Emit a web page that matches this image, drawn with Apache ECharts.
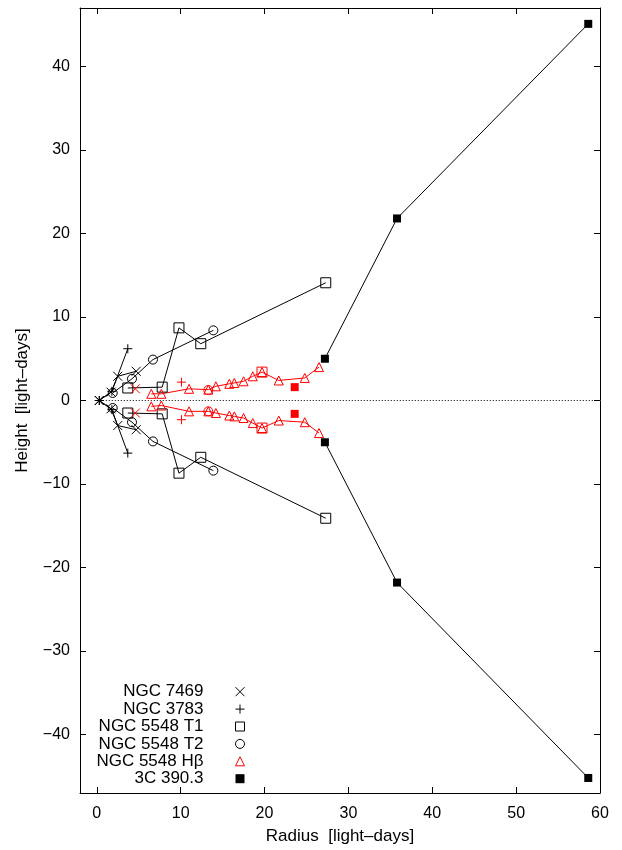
<!DOCTYPE html>
<html><head><meta charset="utf-8">
<script src="https://cdn.jsdelivr.net/npm/echarts@6/dist/echarts.min.js"></script>
<style>html,body{margin:0;padding:0;background:#fff}#c{width:622px;height:850px}</style>
</head><body><div id="c"></div>
<script>
// ---- data (radius / height in light-days) ----
const xTicks = [0, 10, 20, 30, 40, 50, 60];
const yTicks = [-40, -30, -20, -10, 0, 10, 20, 30, 40];

const n7469R   = [0.3, 1.7, 2.5, 4.7];
const n7469Hup = [0.0, 1.0, 2.9, 3.5];
const n7469Hlo = [0.0, -1.0, -3.0, -3.5];

const n3783R   = [0.3, 1.8, 3.7];
const n3783Hup = [0.0, 1.1, 6.2];
const n3783Hlo = [0.0, -1.1, -6.3];

const t1R   = [3.7, 7.8, 9.8, 12.4, 27.3];
const t1Hup = [1.5, 1.6, 8.7, 6.8, 14.1];
const t1Hlo = [-1.5, -1.6, -8.7, -6.8, -14.1];

const t2R   = [1.9, 4.2, 6.7, 13.9];
const t2Hup = [0.9, 2.6, 4.9, 8.4];
const t2Hlo = [-0.9, -2.6, -4.9, -8.4];

const hbR   = [6.5, 7.7, 11.0, 13.3, 14.2, 15.8, 16.4, 17.5, 18.6, 19.7, 21.7, 24.8, 26.5];
const hbHup = [0.8, 0.8, 1.4, 1.3, 1.7, 2.0, 2.1, 2.3, 2.9, 3.4, 2.4, 2.7, 4.0];
const hbHlo = [-0.7, -0.6, -1.3, -1.3, -1.5, -1.8, -1.9, -2.1, -2.7, -3.3, -2.4, -2.6, -3.9];

const c390R   = [27.2, 35.8, 58.6];
const c390Hup = [5.0, 21.8, 45.1];
const c390Hlo = [-5.0, -21.8, -45.2];

// red (Hbeta) single points of the other objects
const redXR = [4.6, 4.6],   redXH = [1.4, -1.5];
const redPR = [10.1, 10.1], redPH = [2.2, -2.3];
const redOR = [13.3, 13.3], redOH = [1.25, -1.3];
const redSR = [19.7, 19.7], redSH = [3.4, -3.3];
const redFR = [23.6, 23.6], redFH = [1.6, -1.6];

const zeroR = [0, 60], zeroH = [0, 0];

const names = ['NGC 7469', 'NGC 3783', 'NGC 5548 T1', 'NGC 5548 T2', 'NGC 5548 H\u03b2', '3C 390.3'];

// ---- build ----
const pair = (r, h) => r.map((v, i) => [v, h[i]]);
const FONT = 'Liberation Sans';
const BLACK = '#000', RED = '#ff0000';
const CROSS = 'path://M0,0L10,10M10,0L0,10';
const PLUS = 'path://M5,0L5,10M0,5L10,5';
const CLEAR = 'rgba(0,0,0,0)';

function lineSeries(name, data, symbol, size, color, filled) {
  return {
    type: 'line', name, data, symbol, symbolSize: size,
    lineStyle: { color, width: 1 },
    itemStyle: { color: filled ? color : CLEAR, borderColor: color, borderWidth: filled ? 0 : 1 },
    emphasis: { disabled: true }, silent: true, animation: false, z: 3
  };
}
function scatterSeries(name, data, symbol, size, color, filled) {
  return {
    type: 'scatter', name, data, symbol, symbolSize: size,
    itemStyle: { color: filled ? color : CLEAR, borderColor: color, borderWidth: filled ? 0 : 1, opacity: 1 },
    emphasis: { disabled: true }, silent: true, animation: false, z: 4
  };
}

const series = [
  { type: 'line', name: 'zero', data: pair(zeroR, zeroH), symbol: 'none',
    lineStyle: { color: BLACK, width: 1, type: [1, 2] }, silent: true, animation: false, z: 1 },
  lineSeries(names[0], pair(n7469R, n7469Hup), CROSS, 9, BLACK, false),
  lineSeries(names[0], pair(n7469R, n7469Hlo), CROSS, 9, BLACK, false),
  lineSeries(names[1], pair(n3783R, n3783Hup), PLUS, 9, BLACK, false),
  lineSeries(names[1], pair(n3783R, n3783Hlo), PLUS, 9, BLACK, false),
  lineSeries(names[2], pair(t1R, t1Hup), 'rect', 10, BLACK, false),
  lineSeries(names[2], pair(t1R, t1Hlo), 'rect', 10, BLACK, false),
  lineSeries(names[3], pair(t2R, t2Hup), 'circle', 9, BLACK, false),
  lineSeries(names[3], pair(t2R, t2Hlo), 'circle', 9, BLACK, false),
  lineSeries(names[4], pair(hbR, hbHup), 'triangle', 9, RED, false),
  lineSeries(names[4], pair(hbR, hbHlo), 'triangle', 9, RED, false),
  lineSeries(names[5], pair(c390R, c390Hup), 'rect', 8, BLACK, true),
  lineSeries(names[5], pair(c390R, c390Hlo), 'rect', 8, BLACK, true),
  scatterSeries('r7469', pair(redXR, redXH), CROSS, 9, RED, false),
  scatterSeries('r3783', pair(redPR, redPH), PLUS, 9, RED, false),
  scatterSeries('rT2', pair(redOR, redOH), 'circle', 9, RED, false),
  scatterSeries('rT1', pair(redSR, redSH), 'rect', 10, RED, false),
  scatterSeries('r390', pair(redFR, redFH), 'rect', 8, RED, true)
];

const fmt = v => String(v).replace('-', '\u2212');
const labelStyle = { fontSize: 16, color: BLACK, fontFamily: FONT };
const titleStyle = { fontSize: 17, color: BLACK, fontFamily: FONT };

const legendIcons = [
  { icon: CROSS, itemStyle: { color: 'none', borderColor: BLACK, borderWidth: 1 } },
  { icon: PLUS, itemStyle: { color: 'none', borderColor: BLACK, borderWidth: 1 } },
  { icon: 'rect', itemStyle: { color: CLEAR, borderColor: BLACK, borderWidth: 1 } },
  { icon: 'circle', itemStyle: { color: CLEAR, borderColor: BLACK, borderWidth: 1 } },
  { icon: 'triangle', itemStyle: { color: CLEAR, borderColor: RED, borderWidth: 1 } },
  { icon: 'rect', itemStyle: { color: BLACK, borderColor: BLACK, borderWidth: 0 } }
];

const option = {
  backgroundColor: '#fff',
  animation: false,
  textStyle: { fontFamily: FONT },
  grid: { left: 80, right: 22, top: 8, bottom: 57, containLabel: false, outerBoundsMode: 'none' },
  legend: {
    orient: 'vertical', align: 'right', right: 375, top: 683, padding: 0,
    itemWidth: 9, itemHeight: 9, itemGap: 0, selectedMode: false,
    textStyle: { fontSize: 17, color: BLACK, fontFamily: FONT, lineHeight: 17.4, padding: [0, 27, 0, 0] },
    data: names.map((n, i) => Object.assign({ name: n }, legendIcons[i]))
  },
  xAxis: [
    { type: 'value', position: 'bottom', min: -2, max: 60,
      name: 'Radius  [light\u2013days]', nameLocation: 'middle', nameGap: 35,
      nameTextStyle: titleStyle,
      axisLine: { show: true, onZero: false, lineStyle: { color: BLACK, width: 1 } },
      axisTick: { show: true, inside: true, length: 6, customValues: xTicks, lineStyle: { color: BLACK } },
      axisLabel: { show: true, customValues: xTicks, margin: 13, formatter: fmt, ...labelStyle },
      splitLine: { show: false } },
    { type: 'value', position: 'top', min: -2, max: 60,
      axisLine: { show: true, onZero: false, lineStyle: { color: BLACK, width: 1 } },
      axisTick: { show: true, inside: true, length: 6, customValues: xTicks, lineStyle: { color: BLACK } },
      axisLabel: { show: false }, splitLine: { show: false } }
  ],
  yAxis: [
    { type: 'value', position: 'left', min: -47, max: 47,
      name: 'Height  [light\u2013days]', nameLocation: 'middle', nameGap: 49, nameRotate: 90,
      nameTextStyle: titleStyle,
      axisLine: { show: true, onZero: false, lineStyle: { color: BLACK, width: 1 } },
      axisTick: { show: true, inside: true, length: 6, customValues: yTicks, lineStyle: { color: BLACK } },
      axisLabel: { show: true, customValues: yTicks, margin: 10, formatter: fmt, ...labelStyle },
      splitLine: { show: false } },
    { type: 'value', position: 'right', min: -47, max: 47,
      axisLine: { show: true, onZero: false, lineStyle: { color: BLACK, width: 1 } },
      axisTick: { show: true, inside: true, length: 6, customValues: yTicks, lineStyle: { color: BLACK } },
      axisLabel: { show: false }, splitLine: { show: false } }
  ],
  series
};

const chart = echarts.init(document.getElementById('c'), null, { renderer: 'canvas' });
chart.setOption(option);
</script>
</body></html>
